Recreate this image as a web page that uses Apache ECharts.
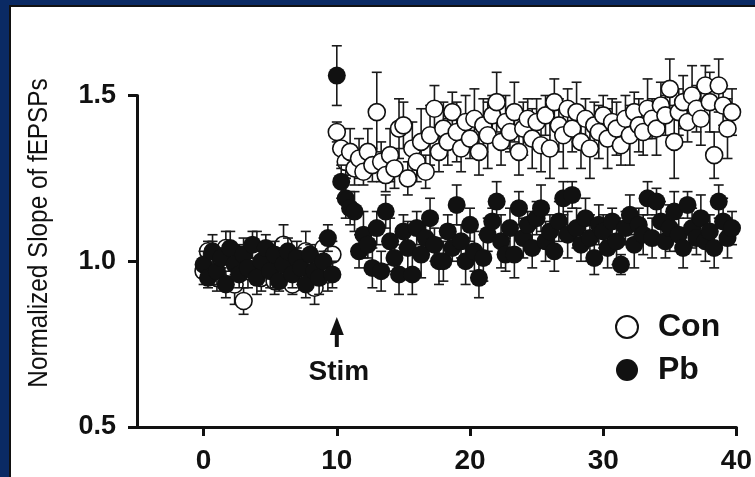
<!DOCTYPE html>
<html><head><meta charset="utf-8">
<script src="https://cdn.jsdelivr.net/npm/echarts/dist/echarts.min.js"></script>
<style>
html,body{margin:0;padding:0;background:#0a2a64;width:755px;height:477px;overflow:hidden}
#panel{position:absolute;left:9px;top:5px;width:746px;height:472px;background:#fff;border-left:2px solid #111;border-top:2px solid #111;box-sizing:border-box}
#chart{position:absolute;left:0;top:0;width:755px;height:477px}
</style></head><body><div id="panel"></div><div id="chart"></div>
<script>
const times = [
 0,0.33,0.67,1,1.33,1.67,2,2.33,2.67,3,
 3.33,3.67,4,4.33,4.67,5,5.33,5.67,6,6.33,
 6.67,7,7.33,7.67,8,8.33,8.67,9,9.33,9.67,
 10,10.33,10.67,11,11.33,11.67,12,12.33,12.67,13,
 13.33,13.67,14,14.33,14.67,15,15.33,15.67,16,16.33,
 16.67,17,17.33,17.67,18,18.33,18.67,19,19.33,19.67,
 20,20.33,20.67,21,21.33,21.67,22,22.33,22.67,23,
 23.33,23.67,24,24.33,24.67,25,25.33,25.67,26,26.33,
 26.67,27,27.33,27.67,28,28.33,28.67,29,29.33,29.67,
 30,30.33,30.67,31,31.33,31.67,32,32.33,32.67,33,
 33.33,33.67,34,34.33,34.67,35,35.33,35.67,36,36.33,
 36.67,37,37.33,37.67,38,38.33,38.67,39,39.33,39.67];
const conMean = [
 0.97,1.03,1.01,0.95,0.99,1.04,0.98,0.93,1.02,0.88,
 0.97,1.00,1.03,0.95,0.99,1.02,0.94,0.97,1.05,0.99,
 0.93,1.01,0.96,1.03,0.98,0.92,1.00,1.04,0.96,1.02,
 1.39,1.34,1.30,1.33,1.28,1.31,1.27,1.33,1.29,1.45,
 1.30,1.26,1.32,1.28,1.40,1.41,1.25,1.34,1.30,1.36,
 1.27,1.38,1.46,1.33,1.40,1.36,1.45,1.39,1.34,1.42,
 1.37,1.43,1.33,1.41,1.38,1.44,1.48,1.36,1.42,1.39,
 1.45,1.33,1.40,1.43,1.37,1.42,1.35,1.44,1.34,1.48,
 1.41,1.38,1.46,1.40,1.45,1.36,1.43,1.34,1.41,1.39,
 1.44,1.37,1.42,1.40,1.35,1.43,1.38,1.45,1.41,1.39,
 1.46,1.43,1.40,1.47,1.44,1.52,1.36,1.45,1.48,1.42,
 1.50,1.46,1.43,1.53,1.48,1.32,1.53,1.47,1.40,1.45];
const conErr = [
 0.04,0.03,0.05,0.04,0.03,0.05,0.04,0.06,0.03,0.04,
 0.05,0.03,0.06,0.04,0.05,0.03,0.04,0.05,0.06,0.04,
 0.03,0.05,0.04,0.06,0.03,0.05,0.04,0.03,0.05,0.04,
 0.03,0.06,0.05,0.07,0.05,0.06,0.04,0.07,0.05,0.12,
 0.06,0.05,0.08,0.06,0.09,0.07,0.05,0.08,0.06,0.10,
 0.05,0.09,0.07,0.06,0.08,0.07,0.06,0.09,0.07,0.08,
 0.06,0.09,0.07,0.08,0.10,0.06,0.09,0.07,0.08,0.06,
 0.09,0.07,0.08,0.06,0.09,0.07,0.08,0.06,0.09,0.07,
 0.08,0.10,0.06,0.07,0.09,0.08,0.06,0.09,0.07,0.08,
 0.06,0.09,0.07,0.08,0.06,0.07,0.09,0.06,0.08,0.07,
 0.09,0.06,0.08,0.07,0.06,0.09,0.11,0.07,0.08,0.06,
 0.09,0.07,0.08,0.06,0.09,0.07,0.08,0.06,0.09,0.07];
const pbMean = [
 0.99,0.95,1.03,0.97,1.01,0.93,1.04,0.99,0.96,1.02,
 0.98,1.05,0.95,1.00,1.04,0.97,1.02,0.94,0.99,1.03,
 0.96,1.01,0.98,0.93,1.02,0.97,0.95,1.00,1.07,0.96,
 1.56,1.24,1.19,1.16,1.15,1.03,1.08,1.05,0.98,1.10,
 0.97,1.15,1.06,1.01,0.96,1.09,1.04,0.96,1.10,1.02,
 1.07,1.13,1.05,1.00,1.00,1.09,1.04,1.17,1.06,1.00,
 1.11,1.03,0.95,1.01,1.08,1.12,1.18,1.06,1.02,1.10,
 1.02,1.16,1.07,1.11,1.04,1.13,1.16,1.06,1.09,1.03,
 1.12,1.19,1.08,1.20,1.10,1.05,1.13,1.07,1.01,1.11,
 1.09,1.04,1.12,1.06,0.99,1.10,1.14,1.05,1.11,1.08,
 1.19,1.07,1.18,1.12,1.06,1.10,1.15,1.08,1.04,1.17,
 1.10,1.07,1.13,1.06,1.09,1.04,1.18,1.12,1.07,1.10];
const pbErr = [
 0.04,0.03,0.05,0.04,0.03,0.04,0.05,0.03,0.04,0.05,
 0.03,0.04,0.05,0.03,0.04,0.05,0.04,0.03,0.05,0.04,
 0.04,0.03,0.05,0.04,0.03,0.04,0.05,0.03,0.04,0.04,
 0.09,0.05,0.06,0.05,0.06,0.05,0.07,0.04,0.06,0.05,
 0.06,0.05,0.07,0.04,0.06,0.05,0.08,0.06,0.05,0.07,
 0.04,0.06,0.05,0.07,0.06,0.05,0.04,0.06,0.05,0.07,
 0.05,0.06,0.06,0.07,0.05,0.04,0.06,0.08,0.05,0.06,
 0.07,0.05,0.06,0.04,0.06,0.05,0.07,0.06,0.05,0.06,
 0.06,0.05,0.07,0.04,0.06,0.05,0.06,0.07,0.05,0.06,
 0.05,0.06,0.04,0.07,0.03,0.05,0.06,0.07,0.05,0.06,
 0.05,0.06,0.04,0.06,0.05,0.07,0.06,0.05,0.06,0.04,
 0.06,0.05,0.07,0.06,0.05,0.06,0.05,0.07,0.06,0.05];
const xTicks = [0, 10, 20, 30, 40];
const seriesNames = ['Con', 'Pb'];
const yTitle = 'Normalized Slope of fEPSPs';
const stimLabel = 'Stim';
const stimTime = 10;

const F = '"Liberation Sans", Arial, sans-serif';
const INK = '#111';
const chart = echarts.init(document.getElementById('chart'), null, {renderer: 'canvas'});

function rows(mean, err) { return times.map((t, i) => [t, mean[i], err[i]]); }
function errSeries(name, data, z) {
  return {
    type: 'custom', name: name, data: data, z: z, clip: false, silent: true,
    encode: {x: 0, y: 1},
    renderItem: function (p, api) {
      const x = api.value(0), y = api.value(1), e = api.value(2);
      const a = api.coord([x, y + e]), b = api.coord([x, y - e]);
      const w = 5, st = {stroke: '#1a1a1a', lineWidth: 1.6};
      return {type: 'group', children: [
        {type: 'line', shape: {x1: a[0], y1: a[1], x2: b[0], y2: b[1]}, style: st},
        {type: 'line', shape: {x1: a[0] - w, y1: a[1], x2: a[0] + w, y2: a[1]}, style: st},
        {type: 'line', shape: {x1: b[0] - w, y1: b[1], x2: b[0] + w, y2: b[1]}, style: st}
      ]};
    }
  };
}
const conData = rows(conMean, conErr), pbData = rows(pbMean, pbErr);

chart.setOption({
  animation: false,
  backgroundColor: 'transparent',
  grid: {left: 137, right: 14, top: 95.5, bottom: 50, containLabel: false},
  xAxis: {
    type: 'value', min: -5, max: 40,
    axisLine: {onZero: false, lineStyle: {color: INK, width: 3}},
    axisTick: {customValues: xTicks, length: 9, lineStyle: {color: INK, width: 3}},
    axisLabel: {customValues: xTicks, margin: 20, fontSize: 28, fontWeight: 'bold', fontFamily: F, color: INK},
    splitLine: {show: false}
  },
  yAxis: {
    type: 'value', min: 0.5, max: 1.5, interval: 0.5,
    axisLine: {show: true, onZero: false, lineStyle: {color: INK, width: 3}},
    axisTick: {show: true, length: 9, lineStyle: {color: INK, width: 3}},
    axisLabel: {margin: 21, fontSize: 27, fontWeight: 'bold', fontFamily: F, color: INK,
      formatter: v => v.toFixed(1)},
    splitLine: {show: false}
  },
  legend: {
    orient: 'vertical', left: 615, top: 309, padding: 0, itemGap: 7,
    itemWidth: 52, itemHeight: 22, selectedMode: false,
    textStyle: {fontSize: 32, fontWeight: 'bold', fontFamily: F, color: INK, lineHeight: 36},
    data: [
      {name: seriesNames[0], icon: 'circle', itemStyle: {color: '#fff', borderColor: INK, borderWidth: 2}},
      {name: seriesNames[1], icon: 'circle', itemStyle: {color: INK}}
    ]
  },
  series: [
    errSeries('Con SEM', conData, 2),
    {type: 'scatter', name: seriesNames[0], data: conData, z: 3, clip: false, symbol: 'circle', symbolSize: 17,
      encode: {x: 0, y: 1},
      itemStyle: {color: '#fff', borderColor: INK, borderWidth: 1.6, opacity: 1}},
    errSeries('Pb SEM', pbData, 4),
    {type: 'scatter', name: seriesNames[1], data: pbData, z: 5, clip: false, symbol: 'circle', symbolSize: 18,
      encode: {x: 0, y: 1},
      itemStyle: {color: INK, opacity: 1}}
  ]
});

const sx = chart.convertToPixel({xAxisIndex: 0}, stimTime);
chart.setOption({
  graphic: [
    {type: 'text', x: 40, y: 233, rotation: Math.PI / 2, scaleX: 0.9,
      style: {text: yTitle, font: '27px ' + F, fill: INK, textAlign: 'center', textVerticalAlign: 'middle'}},
    {type: 'polygon', shape: {points: [[sx, 317], [sx - 7, 335], [sx + 7, 335]]}, style: {fill: INK}},
    {type: 'rect', shape: {x: sx - 2, y: 333, width: 4, height: 14}, style: {fill: INK}},
    {type: 'text', x: sx + 2, y: 372,
      style: {text: stimLabel, font: 'bold 28px ' + F, fill: INK, textAlign: 'center', textVerticalAlign: 'middle'}}
  ]
});
</script></body></html>
